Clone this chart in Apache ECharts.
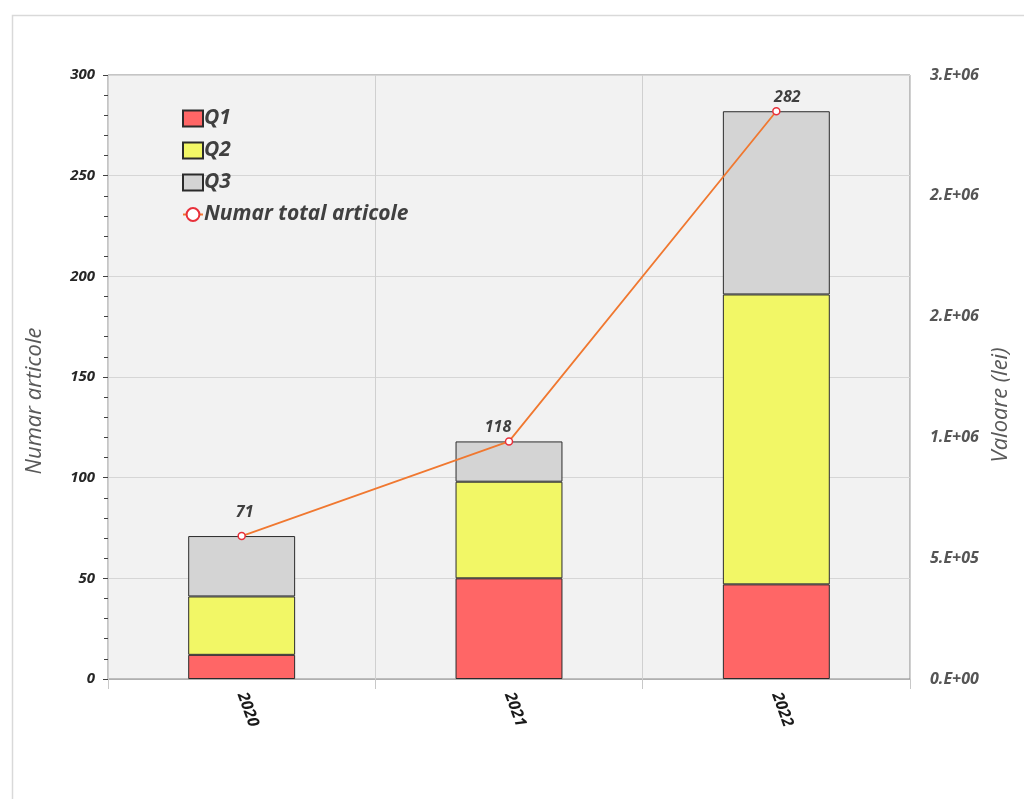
<!DOCTYPE html>
<html>
<head>
<meta charset="utf-8">
<script src="https://cdn.jsdelivr.net/npm/echarts@6/dist/echarts.min.js"></script>
<style>
html,body{margin:0;padding:0;background:#fff;}
#c{width:1024px;height:799px;}
</style>
</head>
<body>
<div id="c"></div>
<script>
var categories = ['2020', '2021', '2022'];
var q1 = [12, 50, 47];
var q2 = [29, 48, 144];
var q3 = [30, 20, 91];
var totalArticole = [71, 118, 282];
var rightTickLabels = ['0.E+00', '5.E+05', '1.E+06', '2.E+06', '2.E+06', '3.E+06'];
var totalLabelOffsets = [[3, -9], [-11, 0], [11, 0]];

var FONT = 'Open Sans';
var chart = echarts.init(document.getElementById('c'));

var lineData = totalArticole.map(function (v, i) {
  return { value: v, label: { offset: totalLabelOffsets[i] } };
});

var barStyle = function (color) {
  return { color: color, borderColor: '#2b2b2b', borderWidth: 1 };
};

chart.setOption({
  backgroundColor: '#ffffff',
  animation: false,
  graphic: [{
    type: 'rect',
    shape: { x: 12.5, y: 15.5, width: 1100, height: 900 },
    style: { fill: 'none', stroke: '#d9d9d9', lineWidth: 1.5 },
    silent: true
  }],
  legend: {
    orient: 'vertical',
    left: 177,
    top: 103,
    itemGap: 11,
    itemWidth: 20,
    itemHeight: 16,
    textStyle: { fontFamily: FONT, fontSize: 21, fontStyle: 'italic', fontWeight: 'bold', color: '#404040', padding: [0, 0, 0, -4] },
    data: [
      { name: 'Q1', icon: 'rect' },
      { name: 'Q2', icon: 'rect' },
      { name: 'Q3', icon: 'rect' },
      { name: 'Numar total articole' }
    ]
  },
  grid: {
    left: 108, right: 114, top: 75, bottom: 120,
    show: true, backgroundColor: '#f2f2f2', borderColor: '#8a8a8a', borderWidth: 1
  },
  xAxis: {
    type: 'category',
    data: categories,
    axisLine: { lineStyle: { color: '#b0b0b0' } },
    axisTick: { show: true, alignWithLabel: false, length: 10, lineStyle: { color: '#c8c8c8' } },
    splitLine: { show: true, lineStyle: { color: '#d0d0d0' } },
    axisLabel: { rotate: -70, margin: 14, fontFamily: FONT, fontSize: 16, fontStyle: 'italic', fontWeight: 'bold', color: '#1a1a1a' }
  },
  yAxis: [{
    type: 'value',
    min: 0, max: 300, interval: 50,
    name: 'Numar articole',
    nameLocation: 'middle',
    nameGap: 62,
    nameRotate: 90,
    nameTextStyle: { fontFamily: FONT, fontSize: 22, fontStyle: 'italic', color: '#595959', padding: [0, 48, 0, 0] },
    axisLine: { show: false },
    axisTick: { show: true, length: 5, lineStyle: { color: '#404040' } },
    minorTick: { show: true, splitNumber: 5, length: 4, lineStyle: { color: '#404040' } },
    splitLine: { show: true, lineStyle: { color: '#d6d6d6' } },
    axisLabel: { margin: 13, fontFamily: FONT, fontSize: 15, fontStyle: 'italic', fontWeight: 'bold', color: '#262626' }
  }, {
    type: 'value',
    min: 0, max: 2500000, interval: 500000,
    name: 'Valoare (lei)',
    nameLocation: 'middle',
    nameGap: 66,
    nameRotate: 90,
    nameTextStyle: { fontFamily: FONT, fontSize: 22, fontStyle: 'italic', color: '#595959', padding: [0, 56, 0, 0] },
    axisLine: { show: false },
    axisTick: { show: false },
    splitLine: { show: false },
    axisLabel: {
      margin: 20, fontFamily: FONT, fontSize: 16, fontStyle: 'italic', fontWeight: 'bold', color: '#555555',
      formatter: function (v) { return rightTickLabels[Math.round(v / 500000)]; }
    }
  }],
  series: [
    { name: 'Q1', type: 'bar', stack: 'q', barWidth: '40%', data: q1, itemStyle: barStyle('#ff6666') },
    { name: 'Q2', type: 'bar', stack: 'q', barWidth: '40%', data: q2, itemStyle: barStyle('#f2f766') },
    { name: 'Q3', type: 'bar', stack: 'q', barWidth: '40%', data: q3, itemStyle: barStyle('#d4d4d4') },
    {
      name: 'Numar total articole', type: 'line', yAxisIndex: 0,
      data: lineData,
      symbol: 'circle', symbolSize: 7,
      lineStyle: { color: '#f07830', width: 1.8 },
      itemStyle: { color: '#ffffff', borderColor: '#e8303a', borderWidth: 1.5 },
      label: { show: true, position: 'top', distance: 2, fontFamily: FONT, fontSize: 16, fontStyle: 'italic', fontWeight: 'bold', color: '#404040' },
      z: 5
    }
  ]
});
</script>
</body>
</html>
